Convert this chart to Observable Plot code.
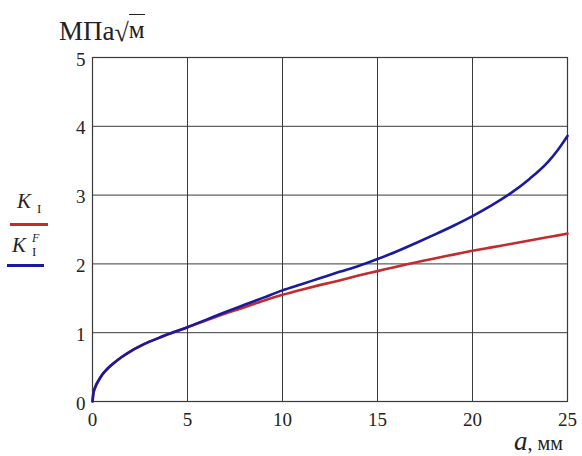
<!DOCTYPE html>
<html>
<head>
<meta charset="utf-8">
<script src="https://cdn.jsdelivr.net/npm/d3@7"></script>
<script src="https://cdn.jsdelivr.net/npm/@observablehq/plot@0.6"></script>
<style>
  html, body { margin: 0; padding: 0; background: #fff; }
  #wrap { position: relative; width: 582px; height: 456px; font-family: "Liberation Serif", "Times New Roman", Tinos, "DejaVu Serif", serif; color: #222; }
  #wrap svg { position: absolute; left: 0; top: 0; }
  .abs { position: absolute; white-space: nowrap; line-height: 1; }
</style>
</head>
<body>
<div id="wrap"></div>
<script>
// crack length a, mm
const aValues = [0, 0.05, 0.1, 0.2, 0.35, 0.5, 0.75, 1, 1.5, 2, 2.5, 3, 3.5, 4, 5, 6, 7, 8, 9, 10, 11, 12, 13, 14, 15, 16, 17, 18, 19, 20, 21, 22, 23, 24, 24.5, 25];
// K_I (red), MPa·√m
const kI = [0, 0.125, 0.175, 0.245, 0.32, 0.385, 0.465, 0.53, 0.64, 0.73, 0.805, 0.87, 0.925, 0.98, 1.08, 1.18, 1.28, 1.37, 1.465, 1.55, 1.625, 1.695, 1.76, 1.83, 1.895, 1.96, 2.02, 2.08, 2.135, 2.19, 2.24, 2.29, 2.34, 2.39, 2.415, 2.44];
// K_I^F (blue), MPa·√m
const kIF = [0, 0.125, 0.175, 0.245, 0.32, 0.385, 0.465, 0.53, 0.64, 0.73, 0.805, 0.87, 0.925, 0.98, 1.08, 1.19, 1.30, 1.405, 1.51, 1.615, 1.705, 1.795, 1.885, 1.97, 2.07, 2.18, 2.30, 2.425, 2.555, 2.695, 2.85, 3.025, 3.235, 3.49, 3.66, 3.86];
const xTicks = [0, 5, 10, 15, 20, 25];
const yTicks = [0, 1, 2, 3, 4, 5];
const seriesNames = ["K1", "K1F"];
const seriesColors = ["#c42a2e", "#1a1a9e"];

const rows = [];
[kI, kIF].forEach((vals, s) => vals.forEach((v, i) => rows.push({a: aValues[i], k: v, s: seriesNames[s]})));

const FONT = '"Liberation Serif", "Times New Roman", Tinos, "DejaVu Serif", serif';

const chart = Plot.plot({
  width: 582,
  height: 456,
  marginLeft: 92,
  marginRight: 15,
  marginTop: 57,
  marginBottom: 55,
  style: {fontFamily: FONT, color: "#222", background: "transparent"},
  x: {domain: [0, 25]},
  y: {domain: [0, 5]},
  marks: [
    Plot.gridX(xTicks, {stroke: "#3a3a3a", strokeOpacity: 1, strokeWidth: 1}),
    Plot.gridY(yTicks, {stroke: "#3a3a3a", strokeOpacity: 1, strokeWidth: 1}),
    Plot.frame({stroke: "#3a3a3a", strokeWidth: 1.2}),
    Plot.line(rows.filter(d => d.s === "K1"), {x: "a", y: "k", stroke: seriesColors[0], strokeWidth: 2.6, curve: "monotone-x"}),
    Plot.line(rows.filter(d => d.s === "K1F"), {x: "a", y: "k", stroke: seriesColors[1], strokeWidth: 2.6, curve: "monotone-x"}),
    Plot.axisX({ticks: xTicks, tickFormat: d => String(d), tickSize: 0, tickPadding: 11, fontSize: 19, fontFamily: FONT, label: null}),
    Plot.axisY({ticks: yTicks, tickFormat: d => String(d), tickSize: 0, tickPadding: 7, fontSize: 19, fontFamily: FONT, label: null, dy: 2})
  ]
});

const wrap = document.getElementById("wrap");
wrap.appendChild(chart);

function addHTML(html) {
  const d = document.createElement("div");
  d.innerHTML = html;
  while (d.firstChild) wrap.appendChild(d.firstChild);
}

// unit label above y axis
addHTML(`<div class="abs" style="left:59px;top:16px;font-size:27px;">МПа<span style="font-size:26px;position:relative;top:1px;">√</span><span style="display:inline-block;border-top:1.6px solid #222;font-size:25px;padding-top:2px;position:relative;top:-2px;">м</span></div>`);

// x-axis label
addHTML(`<div class="abs" style="left:514px;top:428px;"><i style="font-size:27px;">a</i><span style="font-size:20px;">, мм</span></div>`);

// legend
addHTML(`<div class="abs" style="left:17px;top:191px;font-size:21px;"><i>K</i></div>`);
addHTML(`<div class="abs" style="left:37px;top:202px;font-size:13px;">I</div>`);
addHTML(`<div class="abs" style="left:10px;top:223px;width:38px;height:3px;background:${seriesColors[0]};"></div>`);
addHTML(`<div class="abs" style="left:12px;top:235px;font-size:21px;"><i>K</i></div>`);
addHTML(`<div class="abs" style="left:32px;top:232px;font-size:12px;"><i>F</i></div>`);
addHTML(`<div class="abs" style="left:32px;top:245px;font-size:13px;">I</div>`);
addHTML(`<div class="abs" style="left:7px;top:264px;width:37px;height:3px;background:${seriesColors[1]};"></div>`);
</script>
</body>
</html>
